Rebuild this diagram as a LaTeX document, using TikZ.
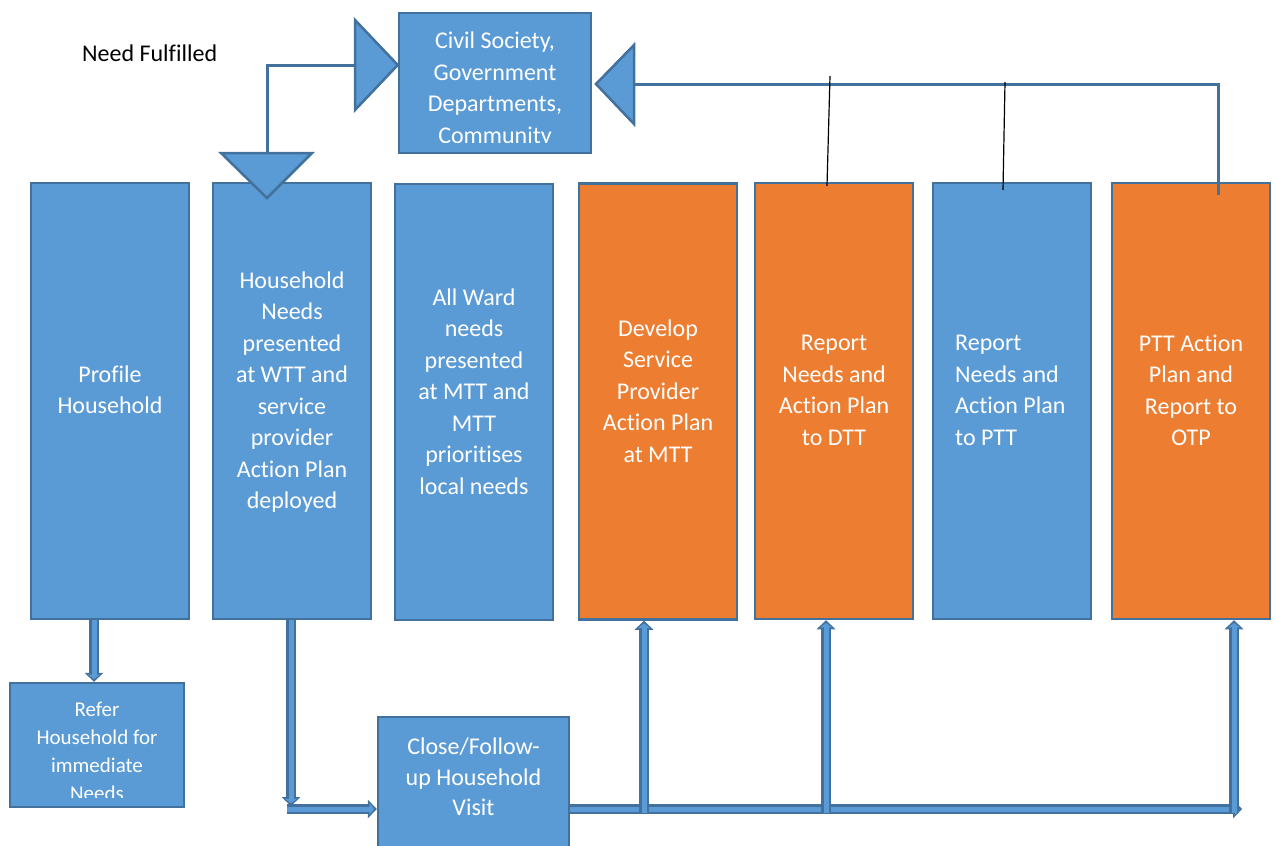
\documentclass[tikz,border=0pt]{standalone}
\usepackage{fontspec}
\setmainfont{Carlito}[Ligatures={NoCommon}]
\usetikzlibrary{arrows.meta,calc}
\definecolor{blu}{HTML}{5B9BD5}
\definecolor{org}{HTML}{ED7D31}
\definecolor{bdr}{HTML}{41719C}
\newcommand\pipeline[2]{\draw[pipeo] #1 -- #2; \draw[pipei] #1 -- #2;}
\tikzset{
  box/.style={draw=bdr, line width=2.5pt, inner sep=0pt, minimum width=158pt, minimum height=436pt},
  bbox/.style={box, fill=blu},
  obox/.style={box, fill=org},
  txt/.style={text=white, align=center, inner sep=0pt, font=\fontsize{24}{31.5}\selectfont},
  pipeo/.style={draw=bdr, line width=9.5pt, -{Triangle[width=19pt,length=9pt,line width=0pt]}},
  pipei/.style={draw=blu, line width=5pt, shorten >=2.8pt, -{Triangle[width=12pt,length=4.3pt,line width=0pt]}},
  fb/.style={draw=bdr, line width=3pt},
  tri/.style={fill=blu, draw=bdr, line width=2.5pt, line join=miter},
  thin/.style={draw=black, line width=1.2pt}
}
\begin{document}
\begin{tikzpicture}[x=1pt, y=-1pt]
\useasboundingbox[fill=white] (0,0) rectangle (1275,846);

% label
\node[anchor=base west, inner sep=0pt, font=\fontsize{24}{31.5}\selectfont] (nf) at (82,61) {Need Fulfilled};

% top box
\node[draw=bdr, fill=blu, line width=2.5pt, inner sep=0pt, minimum width=192pt, minimum height=140pt] (cs) at (495,83) {};
\begin{scope}
\clip (399,13) rectangle (591,142);
\node[txt] (tcs) at (495,89.5) {Civil Society,\\Government\\Departments,\\Community};
\end{scope}

% main column boxes
\node[bbox] (b1) at (110,401) {};
\node[bbox] (b2) at (292,401) {};
\node[bbox] (b3) at (474,402) {};
\node[obox] (b4) at (658,401.5) {};
\node[obox] (b5) at (834,401) {};
\node[bbox] (b6) at (1012,401) {};
\node[obox] (b7) at (1191,401) {};

\node[txt] (t1) at (110,390) {Profile\\Household};
\node[txt] (t2) at (292,392) {Household\\Needs\\presented\\at WTT and\\service\\provider\\Action Plan\\deployed};
\node[txt] (t3) at (474,391.5) {All Ward\\needs\\presented\\at MTT and\\MTT\\prioritises\\local needs};
\node[txt] (t4) at (658,391) {Develop\\Service\\Provider\\Action Plan\\at MTT};
\node[txt] (t5) at (834,390.5) {Report\\Needs and\\Action Plan\\to DTT};
\node[txt, align=left, anchor=west] (t6) at (955,390.5) {Report\\Needs and\\Action Plan\\to PTT};
\node[txt] (t7) at (1191,390.5) {PTT Action\\Plan and\\Report to\\OTP};

% bottom boxes
\node[draw=bdr, fill=blu, line width=2.5pt, inner sep=0pt, minimum width=174pt, minimum height=124pt] (refer) at (97,745) {};
\begin{scope}
\clip (10,683) rectangle (184,797);
\node[txt, font=\fontsize{21}{28}\selectfont] (trefer) at (97,751) {Refer\\Household for\\immediate\\Needs};
\end{scope}
\node[draw=bdr, fill=blu, line width=2.5pt, inner sep=0pt, minimum width=191pt, minimum height=140pt] (close) at (473.5,787) {};
\node[txt, font=\fontsize{24}{30.5}\selectfont] (tclose) at (473.5,777) {Close/Follow-\\up Household\\Visit};

% coordinates
\coordinate (x94) at (94,0);
\coordinate (x291) at (291,0);
\coordinate (x644) at (644,0);
\coordinate (x826) at (826,0);
\coordinate (x1234) at (1234,0);
\coordinate (c1) at (291,806);
\coordinate (hl) at (287,809);
\coordinate (hr) at (1242,809);
\coordinate (hb) at (0,813);

% pipes
\pipeline{(x94 |- b1.south)}{(x94 |- refer.north)}
\pipeline{(x291 |- b2.south)}{(c1)}
\pipeline{(hl)}{(hl -| close.west)}
\pipeline{(hr -| close.east)}{(hr)}
\pipeline{(x644 |- hb)}{(x644 |- b4.south)}
\pipeline{(x826 |- hb)}{(x826 |- b5.south)}
\pipeline{(x1234 |- hb)}{(x1234 |- b7.south)}

% feedback connectors
\coordinate (ta) at (355,65);
\coordinate (tb) at (267,153);
\draw[fb] (ta) -| (tb);
\filldraw[tri] (355,20) -- (cs.west |- ta) -- (355,110) -- cycle;
\filldraw[tri] (221,153) -- (312,153) -- (267,198) -- cycle;

\coordinate (tr) at (634,84);
\draw[fb] (1218,195) |- (tr);
\filldraw[tri] (634,45) -- (634,124) -- (596,84) -- cycle;

\draw[thin] (830,76) -- (827,186);
\draw[thin] (1005,82) -- (1003,190);
\end{tikzpicture}
\end{document}
